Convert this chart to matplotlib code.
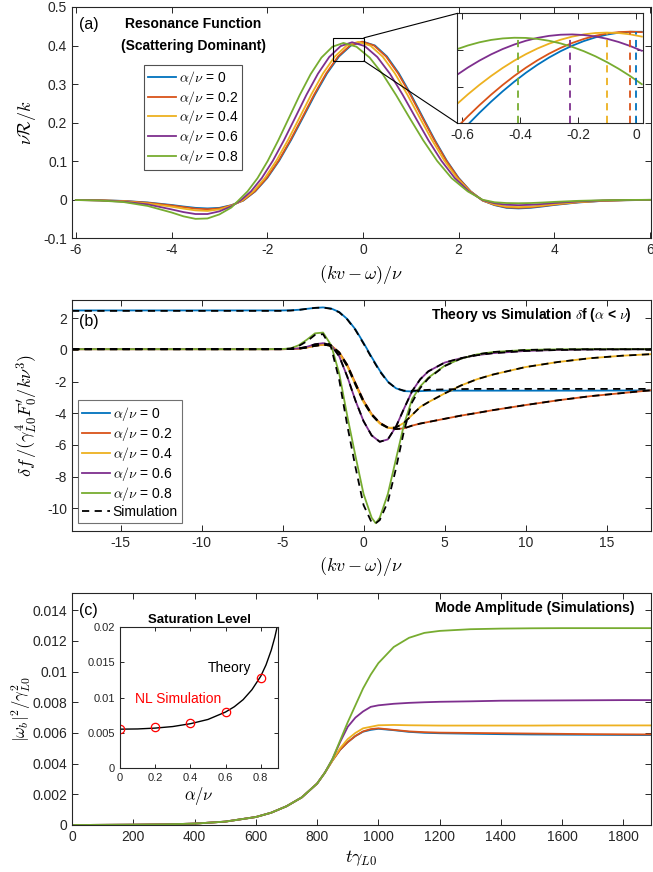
import matplotlib
matplotlib.use('Agg')
import matplotlib.pyplot as plt
from matplotlib.patches import Rectangle, ConnectionPatch

plt.rcParams['font.family'] = ['Liberation Sans', 'DejaVu Sans']
plt.rcParams['mathtext.fontset'] = 'cm'

colors = ['#0072BD', '#D95319', '#EDB120', '#7E2F8E', '#77AC30']
labels = [r'$\alpha/\nu$ = 0', r'$\alpha/\nu$ = 0.2', r'$\alpha/\nu$ = 0.4',
          r'$\alpha/\nu$ = 0.6', r'$\alpha/\nu$ = 0.8']

# ---- (a) resonance function ----
xa_left = [-6, -5.5, -5, -4.5, -4, -3.75, -3.5, -3.25, -3, -2.75]
xa_right = [2.5, 2.75, 3, 3.25, 3.5, 3.75, 4, 4.5, 5, 5.5, 6]

x_a0 = xa_left + [-2.5, -2.25, -2, -1.75, -1.5, -1.25, -1, -0.75, -0.5, -0.25, 0,
                  0.25, 0.5, 0.75, 1, 1.25, 1.5, 1.75, 2, 2.25] + xa_right
x_a2 = xa_left + [-2.505, -2.258, -2.011, -1.762, -1.514, -1.265, -1.017, -0.768, -0.519, -0.270, -0.021,
                  0.230, 0.481, 0.733, 0.984, 1.236, 1.488, 1.740, 1.992, 2.247] + xa_right
x_a4 = xa_left + [-2.525, -2.290, -2.050, -1.809, -1.566, -1.323, -1.079, -0.835, -0.590, -0.345, -0.100,
                  0.156, 0.411, 0.668, 0.925, 1.182, 1.441, 1.701, 1.964, 2.235] + xa_right
x_a6 = xa_left + [-2.557, -2.340, -2.114, -1.883, -1.650, -1.415, -1.180, -0.942, -0.705, -0.466, -0.227,
                  0.036, 0.299, 0.564, 0.829, 1.097, 1.366, 1.639, 1.918, 2.217] + xa_right
x_a8 = xa_left + [-2.603, -2.412, -2.204, -1.990, -1.770, -1.547, -1.323, -1.096, -0.868, -0.638, -0.408,
                  -0.135, 0.139, 0.415, 0.693, 0.974, 1.259, 1.550, 1.853, 2.190] + xa_right

R_a0 = [-0.0004, -0.0012, -0.0030, -0.0070, -0.0135, -0.0175, -0.0210, -0.0225, -0.0210, -0.0140,
        -0.0020, 0.0219, 0.0565, 0.1016, 0.1553, 0.2141, 0.2735, 0.3279, 0.3717, 0.4001, 0.4100,
        0.4001, 0.3717, 0.3279, 0.2735, 0.2141, 0.1553, 0.1016, 0.0565, 0.0219,
        -0.0020, -0.0140, -0.0210, -0.0225, -0.0210, -0.0175, -0.0135, -0.0070, -0.0030, -0.0012, -0.0004]
R_a2 = [-0.0004, -0.0013, -0.0033, -0.0077, -0.0147, -0.0190, -0.0230, -0.0245, -0.0225, -0.0145,
        -0.0020, 0.0219, 0.0565, 0.1016, 0.1553, 0.2141, 0.2735, 0.3279, 0.3717, 0.4001, 0.4100,
        0.4001, 0.3717, 0.3279, 0.2735, 0.2141, 0.1553, 0.1016, 0.0565, 0.0219,
        -0.0020, -0.0132, -0.0196, -0.0210, -0.0196, -0.0163, -0.0126, -0.0065, -0.0028, -0.0011, -0.0004]
R_a4 = [-0.0005, -0.0015, -0.0040, -0.0095, -0.0180, -0.0230, -0.0275, -0.0290, -0.0250, -0.0155,
        -0.0020, 0.0219, 0.0564, 0.1015, 0.1551, 0.2138, 0.2732, 0.3275, 0.3713, 0.3996, 0.4095,
        0.3996, 0.3713, 0.3275, 0.2732, 0.2138, 0.1551, 0.1015, 0.0564, 0.0219,
        -0.0015, -0.0120, -0.0177, -0.0190, -0.0177, -0.0148, -0.0114, -0.0059, -0.0025, -0.0010, -0.0003]
R_a6 = [-0.0006, -0.0018, -0.0050, -0.0120, -0.0250, -0.0320, -0.0370, -0.0370, -0.0300, -0.0170,
        -0.0020, 0.0218, 0.0563, 0.1012, 0.1547, 0.2133, 0.2725, 0.3267, 0.3703, 0.3986, 0.4085,
        0.3986, 0.3703, 0.3267, 0.2725, 0.2133, 0.1547, 0.1012, 0.0563, 0.0218,
        -0.0010, -0.0090, -0.0130, -0.0140, -0.0130, -0.0110, -0.0084, -0.0043, -0.0019, -0.0007, -0.0002]
R_a8 = [-0.0007, -0.0020, -0.0060, -0.0160, -0.0330, -0.0430, -0.0495, -0.0485, -0.0380, -0.0200,
        -0.0020, 0.0217, 0.0560, 0.1008, 0.1541, 0.2124, 0.2713, 0.3253, 0.3687, 0.3969, 0.4067,
        0.3969, 0.3687, 0.3253, 0.2713, 0.2124, 0.1541, 0.1008, 0.0560, 0.0217,
        0.0000, -0.0065, -0.0085, -0.0090, -0.0085, -0.0072, -0.0055, -0.0028, -0.0012, -0.0005, -0.0002]

# zoomed view near the peak
x_zoom = [-0.62, -0.58, -0.54, -0.50, -0.46, -0.42, -0.38, -0.34, -0.30, -0.26, -0.22,
          -0.18, -0.14, -0.10, -0.06, -0.02, 0.02]
Rz_0 = [0.35256, 0.35933, 0.36576, 0.37181, 0.37747, 0.38272, 0.38756, 0.39195, 0.39589, 0.39936,
        0.40236, 0.40487, 0.40689, 0.40841, 0.40943, 0.40994, 0.40994]
Rz_2 = [0.3574, 0.36385, 0.36992, 0.37562, 0.38093, 0.38584, 0.39033, 0.39439, 0.398, 0.40115,
        0.40384, 0.40603, 0.40777, 0.40901, 0.40975, 0.41, 0.40975]
Rz_4 = [0.3702, 0.37581, 0.38101, 0.38582, 0.39022, 0.3942, 0.39773, 0.40082, 0.40346, 0.40561,
        0.40731, 0.40853, 0.40926, 0.4095, 0.40926, 0.40853, 0.40731]
Rz_6 = [0.3862, 0.39045, 0.39424, 0.39761, 0.40053, 0.40299, 0.40504, 0.40661, 0.40771, 0.40834,
        0.4085, 0.40817, 0.40738, 0.40612, 0.40437, 0.40217, 0.39956]
Rz_8 = [0.40032, 0.40247, 0.40421, 0.40549, 0.40631, 0.40668, 0.40659, 0.40604, 0.40503, 0.40358,
        0.40168, 0.39934, 0.39656, 0.39335, 0.38975, 0.38575, 0.38134]
peak_x = [0.0, -0.021, -0.100, -0.227, -0.408]
peak_R = [0.410, 0.410, 0.4095, 0.4085, 0.4067]

# ---- (b) delta f ----
x_b = [-18, -10, -6, -5, -4.5, -4, -3.5, -3, -2.5, -2, -1.5, -1, -0.5, 0, 0.5, 1, 1.5, 2,
       2.5, 3, 3.5, 4, 5, 6, 7, 8, 10, 12, 14, 16, 18]
df_0 = [2.5, 2.5, 2.5, 2.5, 2.51, 2.54, 2.6, 2.66, 2.69, 2.62, 2.4, 1.95, 1.3, 0.45, -0.45, -1.3,
        -2.0, -2.42, -2.6, -2.62, -2.6, -2.58, -2.57, -2.57, -2.57, -2.57, -2.57, -2.57, -2.57, -2.56, -2.56]
df_2 = [0.05, 0.05, 0.05, 0.05, 0.06, 0.08, 0.15, 0.26, 0.33, 0.28, -0.15, -0.95, -2.1, -3.2, -4.05,
        -4.6, -4.9, -5.0, -4.95, -4.78, -4.65, -4.55, -4.35, -4.15, -3.98, -3.8, -3.48, -3.18, -2.92, -2.72, -2.52]
df_4 = [0.05, 0.05, 0.05, 0.05, 0.06, 0.09, 0.16, 0.27, 0.34, 0.27, -0.2, -1.05, -2.2, -3.3, -4.1,
        -4.65, -4.92, -4.9, -4.6, -4.1, -3.6, -3.3, -2.75, -2.25, -1.85, -1.55, -1.08, -0.76, -0.52, -0.36, -0.25]
df_6 = [0.05, 0.05, 0.05, 0.05, 0.07, 0.1, 0.2, 0.36, 0.43, 0.3, -0.4, -1.7, -3.2, -4.5, -5.4,
        -5.8, -5.65, -4.85, -3.7, -2.6, -1.85, -1.35, -0.8, -0.52, -0.33, -0.2, -0.06, 0.0, 0.03, 0.04, 0.05]
x_b8 = [-18, -10, -6, -5, -4.5, -4, -3.5, -3, -2.5, -2, -1.5, -1, -0.5, 0, 0.5, 0.75, 1, 1.5, 2,
        2.5, 3, 3.5, 4, 5, 6, 7, 8, 10, 12, 14, 16, 18]
df_8 = [0.05, 0.05, 0.05, 0.06, 0.1, 0.3, 0.65, 1.05, 1.1, 0.3, -1.5, -4.2, -6.7, -9.1, -10.6, -10.95,
        -10.6, -9.1, -6.9, -4.7, -3.1, -2.3, -1.75, -1.0, -0.55, -0.28, -0.13, 0.0, 0.04, 0.05, 0.05, 0.05]
sim_0 = [2.47, 2.47, 2.47, 2.47, 2.49, 2.53, 2.6, 2.66, 2.68, 2.6, 2.38, 1.92, 1.26, 0.4, -0.5, -1.35,
         -2.02, -2.42, -2.57, -2.58, -2.55, -2.52, -2.49, -2.47, -2.46, -2.46, -2.46, -2.46, -2.46, -2.46, -2.46]
sim_8 = [0.05, 0.05, 0.05, 0.06, 0.09, 0.25, 0.55, 0.95, 1.0, 0.15, -1.9, -4.8, -7.4, -9.8, -10.9, -10.95,
         -10.75, -9.6, -7.5, -5.1, -3.3, -2.4, -1.8, -1.02, -0.55, -0.28, -0.13, 0.0, 0.04, 0.05, 0.05, 0.05]

# ---- (c) mode amplitude ----
t_c = [0, 100, 200, 300, 400, 500, 600, 650, 700, 750, 800, 825, 850, 875, 900, 925, 950, 975,
       1000, 1050, 1100, 1150, 1200, 1300, 1400, 1500, 1600, 1700, 1800, 1890]
early = [0.0, 0.00001, 0.00002, 0.00004, 0.00009, 0.00022, 0.00052, 0.0008, 0.00122, 0.0018,
         0.0027, 0.0034]
amp_0 = early + [0.0042, 0.0049, 0.0054, 0.0058, 0.00608, 0.0062, 0.00627, 0.00618, 0.00607,
                 0.00601, 0.00598, 0.00595, 0.00592, 0.0059, 0.00589, 0.00588, 0.00587, 0.00586]
amp_2 = early + [0.0042, 0.0049, 0.0054, 0.0058, 0.0061, 0.00625, 0.0063, 0.0062, 0.0061,
                 0.00605, 0.00602, 0.006, 0.00598, 0.00596, 0.00594, 0.00592, 0.00591, 0.0059]
amp_4 = early + [0.0042, 0.0050, 0.0056, 0.0060, 0.0063, 0.0064, 0.0065, 0.00652, 0.0065,
                 0.00649, 0.00648, 0.00648, 0.00648, 0.00648, 0.00649, 0.00649, 0.00649, 0.00649]
amp_6 = early + [0.0043, 0.0054, 0.0064, 0.0070, 0.0074, 0.0077, 0.0078, 0.0079, 0.00796,
                 0.008, 0.00803, 0.00806, 0.0081, 0.00811, 0.00812, 0.00813, 0.00814, 0.00814]
amp_8 = early + [0.0043, 0.0055, 0.0067, 0.0078, 0.0089, 0.0098, 0.01055, 0.0116, 0.0122,
                 0.01252, 0.01265, 0.01276, 0.0128, 0.01282, 0.01283, 0.01283, 0.01283, 0.01283]

ratio_th = [0.0, 0.1, 0.2, 0.3, 0.4, 0.5, 0.6, 0.65, 0.7, 0.75, 0.8, 0.83, 0.86, 0.88, 0.89, 0.9]
sat_th = [0.00553, 0.00556, 0.00568, 0.0059, 0.0063, 0.0069, 0.00795, 0.0087, 0.0097, 0.0111,
          0.013, 0.0146, 0.0167, 0.0185, 0.0196, 0.0209]
ratio_sim = [0, 0.2, 0.4, 0.6, 0.8]
sat_sim = [0.0056, 0.00584, 0.00645, 0.0080, 0.0127]


def style(ax, fs=10):
    ax.tick_params(direction='in', top=True, right=True, length=4, width=0.7,
                   labelsize=fs, colors='0.15', labelcolor='0.15')
    for s in ax.spines.values():
        s.set_linewidth(0.8)
        s.set_color('0.15')


fig = plt.figure(figsize=(6.53, 8.72), dpi=100)
lw = 1.3

# panel a
ax_a = fig.add_axes([0.1103, 0.7267, 0.8867, 0.2653])
xs_a = [x_a0, x_a2, x_a4, x_a6, x_a8]
ys_a = [R_a0, R_a2, R_a4, R_a6, R_a8]
for xx, yy, c, lab in zip(xs_a, ys_a, colors, labels):
    ax_a.plot(xx, yy, color=c, lw=lw, label=lab)
ax_a.set_xlim(-6.08, 6.02)
ax_a.set_ylim(-0.1, 0.5)
ax_a.set_xticks([-6, -4, -2, 0, 2, 4, 6])
ax_a.set_yticks([-0.1, 0, 0.1, 0.2, 0.3, 0.4, 0.5])
ax_a.set_yticklabels(['-0.1', '0', '0.1', '0.2', '0.3', '0.4', '0.5'])
ax_a.set_xticklabels(['-6', '-4', '-2', '0', '2', '4', '6'])
style(ax_a)
ax_a.set_xlabel(r'$(kv-\omega)/\nu$', fontsize=13)
ax_a.set_ylabel(r'$\nu\mathcal{R}/k$', fontsize=13)
ax_a.xaxis.set_label_coords(0.5, -0.105)
ax_a.yaxis.set_label_coords(-0.058, 0.5)
ax_a.text(0.012, 0.925, '(a)', transform=ax_a.transAxes, fontsize=11.5, va='center')
ax_a.text(0.209, 0.925, 'Resonance Function', transform=ax_a.transAxes, fontsize=10,
          fontweight='bold', ha='center', va='center')
ax_a.text(0.209, 0.83, '(Scattering Dominant)', transform=ax_a.transAxes, fontsize=10,
          fontweight='bold', ha='center', va='center')
leg = ax_a.legend(loc='upper left', bbox_to_anchor=(0.124, 0.75), fontsize=10, frameon=True,
                  fancybox=False, edgecolor='0.15', handlelength=2.0, handletextpad=0.2,
                  borderpad=0.3, labelspacing=0.12, borderaxespad=0)
leg.get_frame().set_linewidth(0.8)
ax_a.add_patch(Rectangle((-0.62, 0.36), 0.64, 0.06, fill=False, lw=0.8, ec='k', zorder=5))

ax_i = fig.add_axes([0.7006, 0.8586, 0.2845, 0.1261])
for yy, c in zip([Rz_0, Rz_2, Rz_4, Rz_6, Rz_8], colors):
    ax_i.plot(x_zoom, yy, color=c, lw=lw)
for px, pr, c in zip(peak_x, peak_R, colors):
    ax_i.plot([px, px], [0.36, pr], color=c, lw=lw, ls=(0, (4, 3)))
ax_i.set_xlim(-0.616, 0.025)
ax_i.set_ylim(0.36, 0.42)
ax_i.set_xticks([-0.6, -0.4, -0.2, 0])
ax_i.set_xticklabels(['-0.6', '-0.4', '-0.2', '0'])
ax_i.set_yticks([0.36, 0.38, 0.40, 0.42])
ax_i.set_yticklabels([])
style(ax_i)
for xyA, xyB in [((0.02, 0.42), (0, 1)), ((0.02, 0.36), (0, 0))]:
    con = ConnectionPatch(xyA=xyA, coordsA=ax_a.transData, xyB=xyB, coordsB=ax_i.transAxes,
                          color='k', lw=0.8)
    fig.add_artist(con)

# panel b
ax_b = fig.add_axes([0.1103, 0.3914, 0.8867, 0.2646])
xs_b = [x_b, x_b, x_b, x_b, x_b8]
ys_b = [df_0, df_2, df_4, df_6, df_8]
for xx, yy, c, lab in zip(xs_b, ys_b, colors, labels):
    ax_b.plot(xx, yy, color=c, lw=lw, label=lab)
sims = [(x_b, sim_0), (x_b, df_2), (x_b, df_4), (x_b, df_6), (x_b8, sim_8)]
for i, (xx, yy) in enumerate(sims):
    ax_b.plot(xx, yy, color='k', lw=lw, ls=(0, (4, 3)), label='Simulation' if i == 0 else None)
ax_b.set_xlim(-18, 17.75)
ax_b.set_ylim(-11.42, 3.16)
ax_b.set_xticks([-15, -10, -5, 0, 5, 10, 15])
ax_b.set_xticklabels(['-15', '-10', '-5', '0', '5', '10', '15'])
ax_b.set_yticks([-10, -8, -6, -4, -2, 0, 2])
ax_b.set_yticklabels(['-10', '-8', '-6', '-4', '-2', '0', '2'])
style(ax_b)
ax_b.set_xlabel(r'$(kv-\omega)/\nu$', fontsize=13)
ax_b.set_ylabel(r"$\delta f\,/(\gamma_{L0}^4 F_0'/k\nu^3)$", fontsize=13)
ax_b.xaxis.set_label_coords(0.5, -0.105)
ax_b.yaxis.set_label_coords(-0.055, 0.5)
ax_b.text(0.012, 0.905, '(b)', transform=ax_b.transAxes, fontsize=11.5, va='center')
ax_b.text(0.967, 0.935, r'Theory vs Simulation $\delta$f ($\alpha$ < $\nu$)', transform=ax_b.transAxes,
          fontsize=10, fontweight='bold', ha='right', va='center')
h, l = ax_b.get_legend_handles_labels()
leg = ax_b.legend(h, l, loc='lower left',
                  bbox_to_anchor=(0.01, 0.033), fontsize=10, fancybox=False, edgecolor='0.3',
                  handlelength=2.0, handletextpad=0.2, borderpad=0.3, labelspacing=0.15,
                  borderaxespad=0)
leg.get_frame().set_linewidth(0.8)

# panel c
ax_c = fig.add_axes([0.1103, 0.0539, 0.8867, 0.2657])
for yy, c in zip([amp_0, amp_2, amp_4, amp_6, amp_8], colors):
    ax_c.plot(t_c, yy, color=c, lw=lw)
ax_c.set_xlim(0, 1890)
ax_c.set_ylim(0, 0.0151)
ax_c.set_xticks(range(0, 1801, 200))
ax_c.set_yticks([0, 0.002, 0.004, 0.006, 0.008, 0.01, 0.012, 0.014])
ax_c.set_yticklabels(['0', '0.002', '0.004', '0.006', '0.008', '0.01', '0.012', '0.014'])
style(ax_c)
ax_c.set_xlabel(r'$t\gamma_{L0}$', fontsize=13)
ax_c.set_ylabel(r'$|\omega_b|^2/\gamma_{L0}^2$', fontsize=12)
ax_c.xaxis.set_label_coords(0.5, -0.1)
ax_c.yaxis.set_label_coords(-0.067, 0.5)
ax_c.text(0.012, 0.924, '(c)', transform=ax_c.transAxes, fontsize=11.5, va='center')
ax_c.text(0.972, 0.937, 'Mode Amplitude (Simulations)', transform=ax_c.transAxes,
          fontsize=10, fontweight='bold', ha='right', va='center')

ax_s = fig.add_axes([0.1838, 0.1189, 0.2424, 0.1624])
ax_s.plot(ratio_th, sat_th, color='k', lw=1.0)
ax_s.plot(ratio_sim, sat_sim, 'o', mfc='none', mec='r', ms=6, mew=0.9)
ax_s.set_xlim(0, 0.9)
ax_s.set_ylim(0, 0.02)
ax_s.set_xticks([0, 0.2, 0.4, 0.6, 0.8])
ax_s.set_xticklabels(['0', '0.2', '0.4', '0.6', '0.8'])
ax_s.set_yticks([0, 0.005, 0.01, 0.015, 0.02])
ax_s.set_yticklabels(['0', '0.005', '0.01', '0.015', '0.02'])
style(ax_s, fs=8)
ax_s.tick_params(length=3)
ax_s.set_xlabel(r'$\alpha/\nu$', fontsize=12, labelpad=1)
ax_s.set_title('Saturation Level', fontsize=9.5, fontweight='bold', pad=3)
ax_s.text(0.5, 0.0141, 'Theory', fontsize=10, color='k', va='center')
ax_s.text(0.085, 0.0098, 'NL Simulation', fontsize=10, color='r', va='center')

fig.savefig('out.png', dpi=100)
